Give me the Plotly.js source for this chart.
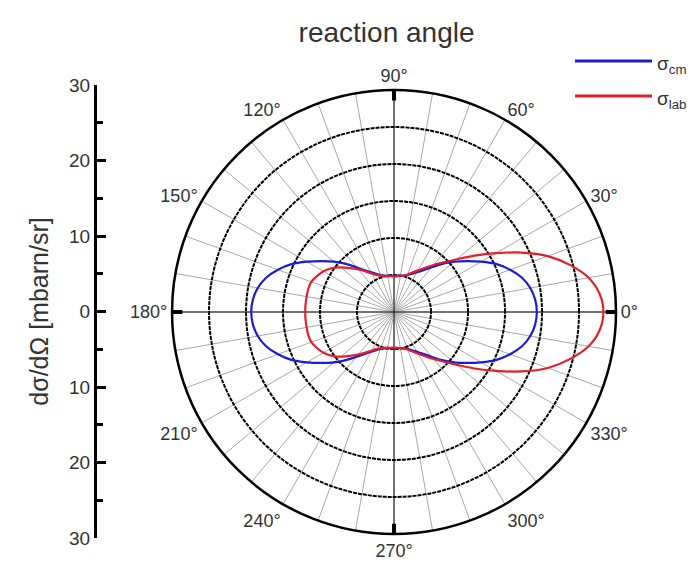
<!DOCTYPE html>
<html>
<head>
<meta charset="utf-8">
<script src="https://cdn.plot.ly/plotly-3.0.1.min.js"></script>
<style>html,body{margin:0;padding:0;background:#fff;}#chart{width:699px;height:563px;}</style>
</head>
<body>
<div id="chart"></div>
<script>
// Reaction angle (degrees), 5° steps
const angles = [0,5,10,15,20,25,30,35,40,45,50,55,60,65,70,75,80,85,90,
                95,100,105,110,115,120,125,130,135,140,145,150,155,160,165,170,175,180,
                185,190,195,200,205,210,215,220,225,230,235,240,245,250,255,260,265,270,
                275,280,285,290,295,300,305,310,315,320,325,330,335,340,345,350,355,360];
// sigma_cm (mbarn/sr)
const sigmaCM = [19.3,19.15,18.7,17.9,16.7,15.3,13.6,12.0,10.6,9.2,7.9,6.9,6.2,5.7,5.3,5.1,4.95,4.9,4.9,
                 4.9,4.95,5.1,5.3,5.7,6.2,6.9,7.9,9.2,10.6,12.0,13.6,15.3,16.7,17.9,18.7,19.15,19.3,
                 19.15,18.7,17.9,16.7,15.3,13.6,12.0,10.6,9.2,7.9,6.9,6.2,5.7,5.3,5.1,4.95,4.9,4.9,
                 4.9,4.95,5.1,5.3,5.7,6.2,6.9,7.9,9.2,10.6,12.0,13.6,15.3,16.7,17.9,18.7,19.15,19.3];
// sigma_lab (mbarn/sr)
const sigmaLab = [28.3,27.9,26.7,24.6,22.1,19.0,15.9,13.3,11.1,9.5,8.3,7.3,6.5,5.9,5.4,5.1,4.95,4.85,4.8,
                  4.85,4.9,5.0,5.2,5.5,6.0,6.7,7.5,8.4,9.4,10.3,11.0,11.5,11.9,12.0,12.0,12.0,12.0,
                  12.0,12.0,12.0,11.9,11.5,11.0,10.3,9.4,8.4,7.5,6.7,6.0,5.5,5.2,5.0,4.9,4.85,4.8,
                  4.85,4.95,5.1,5.4,5.9,6.5,7.3,8.3,9.5,11.1,13.3,15.9,19.0,22.1,24.6,26.7,27.9,28.3];
const seriesNames = ['σ<sub>cm</sub>', 'σ<sub>lab</sub>'];
const seriesColors = ['#1c1cd6', '#e3202a'];

// Angular grid every 10°, labels every 30°
const angGrid = [];
const angText = [];
for (let a = 0; a < 360; a += 10) { angGrid.push(a); angText.push(a % 30 === 0 ? a + '°' : ''); }
const radialGrid = [5, 10, 15, 20, 25];
const crossTheta = [0, 180, null, 90, 270];
const crossR = [30, 30, null, 30, 30];
const markTheta = [0, 0, null, 90, 90, null, 180, 180, null, 270, 270];
const markR = [28.6, 30, null, 28.6, 30, null, 28.6, 30, null, 28.6, 30];

// Left scale
const yTicks = [-30, -20, -10, 0, 10, 20, 30];
const yTickText = ['30', '20', '10', '0', '10', '20', '30'];

const font = 'Liberation Sans, Arial, sans-serif';
const textCol = '#333';

const traces = [
  {type:'scatterpolar', r: crossR, theta: crossTheta, mode:'lines',
   line:{color:'#111', width:1}, showlegend:false, hoverinfo:'skip'},
  {type:'scatterpolar', r: markR, theta: markTheta, mode:'lines',
   line:{color:'#000', width:4}, showlegend:false, hoverinfo:'skip'},
  {type:'scatterpolar', r: sigmaCM, theta: angles, mode:'lines', name: seriesNames[0],
   line:{color: seriesColors[0], width:2.2, shape:'spline', smoothing:0.8}, showlegend:false},
  {type:'scatterpolar', r: sigmaLab, theta: angles, mode:'lines', name: seriesNames[1],
   line:{color: seriesColors[1], width:2.2, shape:'spline', smoothing:0.8}, showlegend:false},
  {type:'scatter', x:[0], y:[0], mode:'markers', marker:{opacity:0}, showlegend:false,
   hoverinfo:'skip', xaxis:'x', yaxis:'y'}
];

const layout = {
  width: 699, height: 563,
  margin: {l:0, r:0, t:0, b:0},
  paper_bgcolor: '#fff', plot_bgcolor: 'rgba(0,0,0,0)',
  font: {family: font, color: textCol},
  showlegend: false,
  title: {text: 'reaction angle', x: 0.553, xanchor: 'center', y: 0.943, yanchor: 'middle',
          font: {size: 28, color: textCol, family: font}},
  polar: {
    domain: {x: [0.2461, 0.8813], y: [0.0515, 0.8401]},
    bgcolor: 'rgba(0,0,0,0)',
    angularaxis: {
      direction: 'counterclockwise', rotation: 0,
      tickmode: 'array', tickvals: angGrid, ticktext: angText,
      ticks: '', tickfont: {size: 18, color: textCol},
      showline: true, linecolor: '#000', linewidth: 2.5,
      showgrid: true, gridcolor: '#a8a8a8', gridwidth: 1
    },
    radialaxis: {
      range: [0, 30], tickmode: 'array', tickvals: radialGrid,
      showticklabels: false, ticks: '', showline: false,
      showgrid: true, gridcolor: '#000', gridwidth: 2, griddash: '4px,1px'
    }
  },
  xaxis: {domain: [0.14, 0.2], visible: false, range: [-1, 1], fixedrange: true},
  yaxis: {
    domain: [0.0444, 0.849], range: [-30, 30], anchor: 'free', position: 0.1359,
    tickmode: 'array', tickvals: yTicks, ticktext: yTickText,
    ticks: 'inside', ticklen: 9, tickwidth: 3, tickcolor: '#000',
    minor: {dtick: 5, tick0: 0, ticks: 'inside', ticklen: 6, tickwidth: 3, tickcolor: '#000', showgrid: false},
    showline: true, linecolor: '#000', linewidth: 3,
    showgrid: false, zeroline: false,
    tickfont: {size: 19, color: textCol},
    title: {text: 'dσ/dΩ [mbarn/sr]', font: {size: 25, color: textCol}, standoff: 12}
  },
  shapes: [
    {type:'line', xref:'paper', yref:'paper', x0: 575/699, x1: 652/699, y0: 1-61/563, y1: 1-61/563,
     line:{color: seriesColors[0], width: 3}},
    {type:'line', xref:'paper', yref:'paper', x0: 575/699, x1: 652/699, y0: 1-96/563, y1: 1-96/563,
     line:{color: seriesColors[1], width: 3}}
  ],
  annotations: [
    {text: seriesNames[0], xref:'paper', yref:'paper', x: 655/699, y: 1-65/563, xanchor:'left', yanchor:'middle',
     showarrow:false, font:{size: 19, color: textCol}},
    {text: seriesNames[1], xref:'paper', yref:'paper', x: 655/699, y: 1-100/563, xanchor:'left', yanchor:'middle',
     showarrow:false, font:{size: 19, color: textCol}}
  ]
};

Plotly.newPlot('chart', traces, layout, {staticPlot: true, displayModeBar: false});
</script>
</body>
</html>
